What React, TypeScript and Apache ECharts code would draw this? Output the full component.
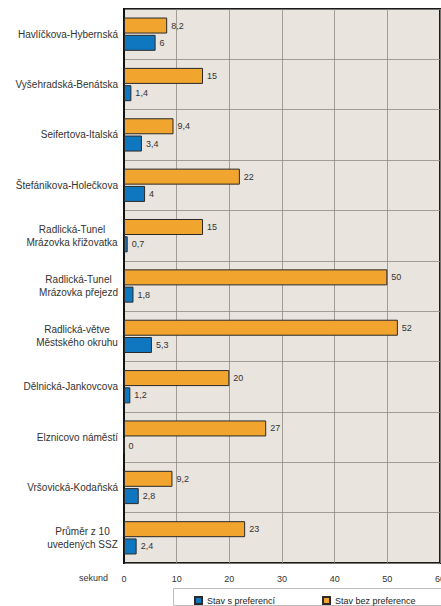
import React, { useEffect, useRef } from "react";
import * as echarts from "echarts";

const categories: string[] = [
  "Havlíčkova-Hybernská",
  "Vyšehradská-Benátska",
  "Seifertova-Italská",
  "Štefánikova-Holečkova",
  "Radlická-Tunel\nMrázovka křižovatka",
  "Radlická-Tunel\nMrázovka přejezd",
  "Radlická-větve\nMěstského okruhu",
  "Dělnická-Jankovcova",
  "Elznicovo náměstí",
  "Vršovická-Kodaňská",
  "Průměr z 10\nuvedených SSZ",
];
const withPreference: number[] = [6, 1.4, 3.4, 4, 0.7, 1.8, 5.3, 1.2, 0, 2.8, 2.4];
const withoutPreference: number[] = [8.2, 15, 9.4, 22, 15, 50, 52, 20, 27, 9.2, 23];
const xTicks: number[] = [0, 10, 20, 30, 40, 50, 60];
const seriesNames = ["Stav s preferencí", "Stav bez preference"];
const unitLabel = "sekund";

const FONT = "Liberation Sans, Arial, sans-serif";

export default function App() {
  const ref = useRef<HTMLDivElement>(null);
  useEffect(() => {
    if (!ref.current) return;
    const chart = echarts.init(ref.current, undefined, { renderer: "svg" });
    const canvas = document.createElement("canvas");
    const ctx = canvas.getContext("2d")!;
    ctx.font = "10px " + FONT;
    const rich: Record<string, any> = {};
    const fmtLabel = (v: string, idx: number) => {
      const lines = v.split("\n");
      if (lines.length === 1) return v;
      const w = Math.ceil(Math.max(...lines.map((l) => ctx.measureText(l).width)));
      const key = "c" + idx;
      rich[key] = { width: w, align: "center", fontSize: 10, lineHeight: 13, color: "#333", fontFamily: FONT };
      return lines.map((l) => `{${key}|${l}}`).join("\n");
    };
    const formatted = categories.map((c, i) => fmtLabel(c, i));
    const valueLabel = {
      show: true,
      position: "right",
      distance: 4,
      fontSize: 9,
      color: "#333",
      fontFamily: FONT,
      formatter: (p: any) => String(p.value).replace(".", ","),
    };
    chart.setOption({
      animation: false,
      backgroundColor: "#ffffff",
      grid: {
        left: 124,
        right: 1,
        top: 9,
        bottom: 43,
        outerBoundsMode: "none",
        containLabel: false,
        show: true,
        backgroundColor: "#e9e4dd",
        borderColor: "#1a1a1a",
        borderWidth: 2,
      },
      legend: {
        data: seriesNames,
        left: 189,
        top: 591,
        itemWidth: 7,
        itemHeight: 7,
        itemGap: 47,
        icon: "rect",
        textStyle: { fontSize: 9, color: "#222", fontFamily: FONT },
      },
      xAxis: {
        type: "value",
        min: xTicks[0],
        max: xTicks[xTicks.length - 1],
        interval: 10,
        axisLine: { show: false },
        axisTick: { show: false },
        axisLabel: { fontSize: 9, color: "#333", margin: 11, fontFamily: FONT },
        splitLine: { show: true, lineStyle: { color: "#8e8984", width: 0.8 } },
      },
      yAxis: {
        type: "category",
        inverse: true,
        data: formatted,
        axisLine: { show: true, lineStyle: { color: "#111", width: 2 } },
        axisTick: { show: false },
        splitLine: { show: true, lineStyle: { color: "#8e8984", width: 0.8 } },
        axisLabel: {
          fontSize: 10,
          color: "#333",
          lineHeight: 13,
          margin: 6,
          fontFamily: FONT,
          rich,
        },
      },
      series: [
        {
          name: seriesNames[1],
          type: "bar",
          data: withoutPreference,
          barWidth: 16,
          barGap: "8%",
          itemStyle: { color: "#f2a52e", borderColor: "#2a2a2a", borderWidth: 1 },
          label: valueLabel,
        },
        {
          name: seriesNames[0],
          type: "bar",
          data: withPreference,
          barWidth: 16,
          barGap: "8%",
          itemStyle: { color: "#0f77c0", borderColor: "#2a2a2a", borderWidth: 1 },
          label: valueLabel,
        },
      ],
      graphic: [
        {
          type: "rect",
          z: -1,
          shape: { x: 173.5, y: 588.5, width: 275, height: 17 },
          style: { fill: "#fff", stroke: "#bdbdbd", lineWidth: 1 },
        },
        {
          type: "text",
          x: 108,
          y: 578,
          style: {
            text: unitLabel,
            fontSize: 9,
            fill: "#333",
            fontFamily: FONT,
            align: "right",
            verticalAlign: "middle",
          },
        },
      ],
    });
    return () => chart.dispose();
  }, []);
  return (
    <div
      ref={ref}
      style={{ position: "fixed", left: 0, top: 0, width: 441, height: 606 }}
    />
  );
}
